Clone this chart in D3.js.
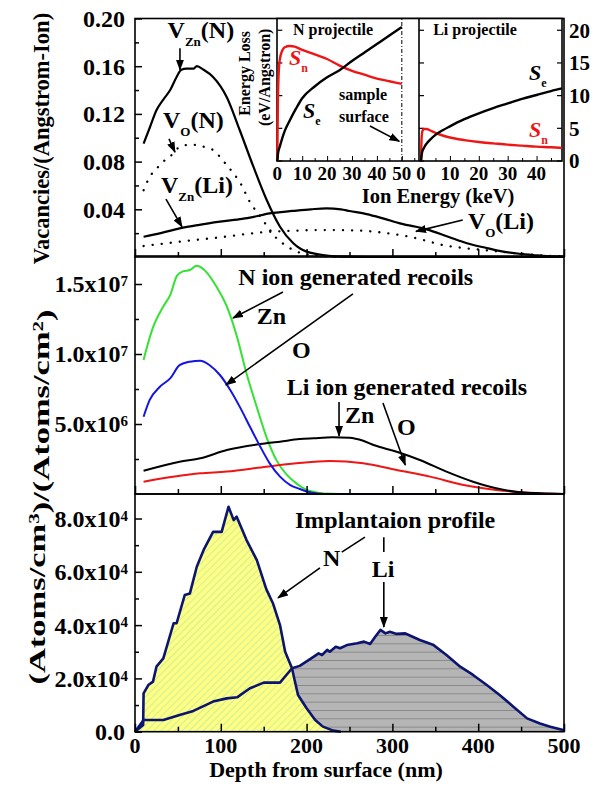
<!DOCTYPE html>
<html><head><meta charset="utf-8">
<script src="https://cdn.jsdelivr.net/npm/d3@7"></script>
<style>
body{margin:0;background:#fff}
svg{display:block}
</style>
</head><body>
<svg id="c" width="598" height="785"></svg>
<script>
// ---------------- DATA ----------------
// Top panel: vacancies (depth nm -> vacancies/(Angstrom-Ion))
const vznN_depth = [10,17.5,25,33,41,48.5,54,60,68,72,80,91,107,122,138,153.5,169,184.5,192,200,212,226,245,270,500];
const vznN_val   = [0.095,0.109,0.123,0.132,0.140,0.151,0.157,0.158,0.158,0.160,0.157,0.151,0.134,0.1065,0.0757,0.0478,0.0254,0.0115,0.0073,0.0045,0.0025,0.001,0.0003,0,0];
const voN_depth  = [10,17,25,33,45,52,62,72,82,91,99,107,115,122,134,146,157,165,175,184,195,210,230,250];
const voN_val    = [0.056,0.067,0.074,0.080,0.087,0.0925,0.094,0.094,0.092,0.0897,0.084,0.077,0.070,0.063,0.046,0.034,0.023,0.0157,0.010,0.006,0.003,0.0012,0.0003,0];
const vznLi_depth = [10,30,52,75,99,125,134,157,184,205,223,240,250,270,289,310,340,365,387,410,429,450,464,480,500];
const vznLi_val   = [0.017,0.020,0.024,0.027,0.0296,0.032,0.033,0.0366,0.0386,0.040,0.0408,0.040,0.0386,0.036,0.0324,0.028,0.0232,0.017,0.0115,0.0075,0.0045,0.0025,0.0017,0.0008,0.0003];
const voLi_depth = [10,52,99,154,185,212,240,270,295,320,340,359,380,406,425,445,470,500];
const voLi_val   = [0.0092,0.0128,0.0165,0.021,0.022,0.0226,0.0225,0.0218,0.0198,0.017,0.0135,0.010,0.0078,0.0059,0.0045,0.003,0.0015,0.0005];

// Middle panel: recoils
const znN_depth = [10,14,21,33,41,49,56,64,72,84,95,107,119,130,142,153,165,177,188,200,208,220,240,500];
const znN_val   = [9.57e6,1.05e7,1.19e7,1.34e7,1.42e7,1.56e7,1.59e7,1.60e7,1.63e7,1.58e7,1.48e7,1.34e7,1.12e7,8.6e6,6.2e6,4.1e6,2.4e6,1.36e6,7.6e5,3e5,1.6e5,3e4,0,0];
const oN_depth  = [10,17,29,41,52,64,76,87,99,111,122,134,146,157,169,181,192,205,220,500];
const oN_val    = [5.52e6,6.7e6,7.66e6,8.26e6,9.2e6,9.45e6,9.52e6,9.2e6,8.5e6,7.43e6,6.24e6,4.8e6,3.38e6,2.19e6,1.24e6,6.4e5,3.6e5,1e5,0,0];
const znLi_depth = [10,52,76,107,153,169,192,208,230,250,266,278,305,332,363,394,421,449,472,500];
const znLi_val   = [1.66e6,2.31e6,2.55e6,3.14e6,3.62e6,3.74e6,3.92e6,3.98e6,4.05e6,4.02e6,3.8e6,3.5e6,3.02e6,2.43e6,1.6e6,8.8e5,4.1e5,1.2e5,5e4,0];
const oLi_depth = [10,76,107,153,188,227,266,305,344,383,421,460,500];
const oLi_val   = [8.8e5,1.48e6,1.6e6,1.95e6,2.19e6,2.36e6,2.19e6,1.71e6,1.24e6,6.4e5,2.9e5,9e4,0];

// Bottom panel: implantation profiles
const impN_depth = [0,9.5,10,15.5,21,25,33,45,48.5,58,64,72,80,91,101,109,115,118.5,130,142,153,161,169,175,183,186,190,200,210,219,231,240];
const impN_val   = [0,2500,14400,17500,18800,24400,27500,40700,40700,51300,51900,61900,68200,75000,75000,84400,79400,80700,71900,64400,53500,48000,40000,30000,23800,19400,13800,8800,4400,1900,400,0];
const impLi_depth = [0,10,33,52,68,91,107,119,134,150,169,183,192,208,214,218,224,227,234,239,247,259,267,274,280,286,292,297,305,315,319,332,348,363,379,394,410,425,441,457,472,484,499,500];
const impLi_val   = [0,4400,4400,6300,7800,11300,12500,12900,16300,18400,18400,23800,24700,28100,29400,28800,30700,30000,31900,31300,32500,33200,33800,32900,35600,38200,36900,37500,36700,36900,36300,34400,32500,28800,24400,21300,17500,13800,9400,5000,3100,1900,600,0];

// Inset: energy loss (keV -> eV/Angstrom)
const nSe_E  = [0,0.3,1,2,3,5,7.5,10,15,20,25,30,35,40,45,50];
const nSe_v  = [0,1.2,2.2,3.5,4.6,6.2,8.0,9.6,11.4,12.8,13.9,15.3,16.6,17.9,19.2,20.5];
const nSn_E  = [0,0.2,0.5,1,2,3,5,7,10,15,20,25,30,35,40,45,50];
const nSn_v  = [0,8,13,15.5,16.9,17.4,17.6,17.5,17.0,16.3,15.6,14.6,13.8,13.2,12.6,12.2,11.8];
const liSe_E = [0,0.3,1,2,3,5,7.5,10,15,20,25,30,35,40,45,48.8];
const liSe_v = [0,1.2,2.0,2.7,3.2,4.0,4.7,5.3,6.4,7.3,8.1,8.8,9.5,10.1,10.7,11.1];
const liSn_E = [0,0.2,0.5,1,2,3,5,7.5,10,15,20,25,30,35,40,45,48.8];
const liSn_v = [0,3.5,4.6,4.9,4.9,4.7,4.3,3.9,3.6,3.2,2.9,2.7,2.5,2.35,2.2,2.1,2.0];

// Tick values / labels
const depthMajor = [0,100,200,300,400,500];
const depthMinor = [50,150,250,350,450];
const topMajor = [0.04,0.08,0.12,0.16,0.20];
const topMinor = [0.02,0.06,0.10,0.14,0.18];
const topLabels = ["0.04","0.08","0.12","0.16","0.20"];
const midMajor = [5e6,1e7,1.5e7];
const midMinor = [2.5e6,7.5e6,1.25e7];
const midLabels = [["5.0x10","6"],["1.0x10","7"],["1.5x10","7"]];
const botMajor = [0,2e4,4e4,6e4,8e4];
const botMinor = [1e4,3e4,5e4,7e4];
const botLabels = [["0.0",""],["2.0x10","4"],["4.0x10","4"],["6.0x10","4"],["8.0x10","4"]];
const insetYTicks = [0,5,10,15,20];
const insetNTicks = [0,10,20,30,40,50];
const insetLiTicks = [0,10,20,30,40];

const FONT = "'Liberation Serif', 'Times New Roman', serif";

// ---------------- SCALES ----------------
const svg = d3.select("#c").attr("font-family",FONT).attr("font-weight","bold");
const x = d3.scaleLinear([0,500],[135,564]);
const yTop = d3.scaleLinear([0,0.2],[257,18.5]);
const yMid = d3.scaleLinear([0,1.7e7],[494,256]);
const yBot = d3.scaleLinear([0,8.92e4],[731.7,494]);
const xN = d3.scaleLinear([0,56.9],[277.3,419]);
const xLi = d3.scaleLinear([-0.7,48.8],[419,562]);
const yIn = d3.scaleLinear([0,21.8],[161,18.5]);

const zip = (a,b)=>a.map((d,i)=>[d,b[i]]);

// defs
const defs = svg.append("defs");
defs.append("marker").attr("id","ah").attr("markerUnits","userSpaceOnUse")
  .attr("markerWidth",11).attr("markerHeight",8).attr("refX",10).attr("refY",4).attr("orient","auto")
  .append("path").attr("d","M0,0 L11,4 L0,8 z").attr("fill","#000");
const pN = defs.append("pattern").attr("id","hatchN").attr("patternUnits","userSpaceOnUse")
  .attr("width",5).attr("height",5).attr("patternTransform","rotate(45)");
pN.append("rect").attr("width",5).attr("height",5).attr("fill","#ffff85");
pN.append("line").attr("x1",0).attr("y1",0).attr("x2",0).attr("y2",5).attr("stroke","#a6e6a0").attr("stroke-width",1.2);
const pL = defs.append("pattern").attr("id","hatchLi").attr("patternUnits","userSpaceOnUse")
  .attr("x",0).attr("y",1.7).attr("width",20).attr("height",8.333);
pL.append("rect").attr("width",20).attr("height",8.333).attr("fill","#b5b5b5");
pL.append("line").attr("x1",0).attr("y1",0).attr("x2",20).attr("y2",0).attr("stroke","#707070").attr("stroke-width",1.2);

// ---------------- PANEL DRAWING ----------------
function lineP(ys){ return d3.line().x(d=>x(d[0])).y(d=>ys(d[1])); }

// Bottom panel areas
const gB = svg.append("g");
gB.append("path").datum(zip(impLi_depth,impLi_val))
  .attr("d",d3.area().x(d=>x(d[0])).y0(yBot(0)).y1(d=>yBot(d[1]))).attr("fill","url(#hatchLi)");
gB.append("path").datum(zip(impN_depth,impN_val))
  .attr("d",d3.area().x(d=>x(d[0])).y0(yBot(0)).y1(d=>yBot(d[1]))).attr("fill","url(#hatchN)");
gB.append("path").datum(zip(impLi_depth,impLi_val)).attr("d",lineP(yBot))
  .attr("fill","none").attr("stroke","#0d1470").attr("stroke-width",2.6).attr("stroke-linejoin","round");
gB.append("path").datum(zip(impN_depth,impN_val)).attr("d",lineP(yBot))
  .attr("fill","none").attr("stroke","#0d1470").attr("stroke-width",2.6).attr("stroke-linejoin","round");

// Middle panel
const gM = svg.append("g");
[[znN_depth,znN_val,"#33e233"],[oLi_depth,oLi_val,"#ee1515"],[znLi_depth,znLi_val,"#000"],[oN_depth,oN_val,"#1515e0"]]
 .forEach(([dx,dv,c])=>{
  gM.append("path").datum(zip(dx,dv)).attr("d",lineP(yMid).curve(d3.curveMonotoneX))
   .attr("fill","none").attr("stroke",c).attr("stroke-width",2);
 });

// Top panel
const gT = svg.append("g");
gT.append("path").datum(zip(vznN_depth,vznN_val)).attr("d",lineP(yTop).curve(d3.curveMonotoneX))
  .attr("fill","none").attr("stroke","#000").attr("stroke-width",2.2);
gT.append("path").datum(zip(vznLi_depth,vznLi_val)).attr("d",lineP(yTop).curve(d3.curveMonotoneX))
  .attr("fill","none").attr("stroke","#000").attr("stroke-width",2.2);
[[voN_depth,voN_val],[voLi_depth,voLi_val]].forEach(([dx,dv])=>{
  gT.append("path").datum(zip(dx,dv)).attr("d",lineP(yTop).curve(d3.curveMonotoneX))
   .attr("fill","none").attr("stroke","#000").attr("stroke-width",2.3)
   .attr("stroke-linecap","round").attr("stroke-dasharray","0.1 9");
});

// Frames
[[yTop,0,0.2],[yMid,0,1.7e7],[yBot,0,8.92e4]].forEach(([ys,a,b])=>{
  svg.append("rect").attr("x",x(0)).attr("y",ys(b)).attr("width",x(500)-x(0)).attr("height",ys(a)-ys(b))
    .attr("fill","none").attr("stroke","#000").attr("stroke-width",1.6);
});

// Axes (ticks inward)
function xTicks(ys){
  const g = svg.append("g").attr("transform",`translate(0,${ys.range()[0]})`);
  g.call(d3.axisBottom(x).tickValues(depthMajor).tickSizeInner(-8).tickSizeOuter(0).tickFormat(""));
  g.call(gg=>gg.select(".domain").remove());
  const g2 = svg.append("g").attr("transform",`translate(0,${ys.range()[0]})`);
  g2.call(d3.axisBottom(x).tickValues(depthMinor).tickSizeInner(-5).tickSizeOuter(0).tickFormat(""));
  g2.call(gg=>gg.select(".domain").remove());
  svg.selectAll(".tick line").attr("stroke-width",1.5);
}
function yTicks(ys, major, minor){
  const g = svg.append("g").attr("transform",`translate(${x(0)},0)`);
  g.call(d3.axisLeft(ys).tickValues(major).tickSizeInner(-7).tickSizeOuter(0).tickFormat(""));
  g.select(".domain").remove();
  const g2 = svg.append("g").attr("transform",`translate(${x(0)},0)`);
  g2.call(d3.axisLeft(ys).tickValues(minor).tickSizeInner(-4).tickSizeOuter(0).tickFormat(""));
  g2.select(".domain").remove();
  svg.selectAll(".tick line").attr("stroke-width",1.5);
}
xTicks(yTop); xTicks(yMid); xTicks(yBot);
yTicks(yTop,topMajor,topMinor); yTicks(yMid,midMajor,midMinor); yTicks(yBot,botMajor,botMinor);

// Tick labels
const FSY = 24, FSX = 22;
topMajor.forEach((v,i)=>{
  svg.append("text").attr("x",125).attr("y",yTop(v)).attr("dy","0.35em").attr("text-anchor","end")
   .attr("font-size",FSY).text(topLabels[i]);
});
function supLabel(ys, vals, labels){
  vals.forEach((v,i)=>{
    const hasSup = !!labels[i][1];
    const t = svg.append("text").attr("x",hasSup?128:125).attr("y",ys(v)).attr("dy","0.35em").attr("text-anchor","end").attr("font-size",FSY);
    t.append("tspan").text(labels[i][0]);
    if(hasSup) t.append("tspan").attr("dy","-0.42em").attr("font-size",15).text(labels[i][1]);
  });
}
supLabel(yMid, midMajor, midLabels);
supLabel(yBot, botMajor, botLabels);
depthMajor.forEach(v=>{
  svg.append("text").attr("x",x(v)).attr("y",753).attr("text-anchor","middle").attr("font-size",FSX).text(v);
});

// Axis titles
svg.append("text").attr("x",326).attr("y",777).attr("text-anchor","middle").attr("font-size",22).text("Depth from surface (nm)");
svg.append("text").attr("transform","translate(49,138.5) rotate(-90)").attr("text-anchor","middle").attr("font-size",22.5)
  .text("Vacancies/(Angstrom-Ion)");
{
  const t = svg.append("text").attr("transform","translate(45,497) rotate(-90) scale(1.5,1)").attr("text-anchor","middle")
    .attr("font-size",23);
  t.append("tspan").text("(Atoms/cm");
  t.append("tspan").attr("dy","-0.42em").attr("font-size",14).text("3");
  t.append("tspan").attr("dy","0.42em").text(")/(Atoms/cm");
  t.append("tspan").attr("dy","-0.42em").attr("font-size",14).text("2");
  t.append("tspan").attr("dy","0.42em").text(")");
}

// ---------------- ANNOTATIONS ----------------
const FSA = 24;
function arrow(x1,y1,x2,y2,head=true){
  const l = svg.append("line").attr("x1",x1).attr("y1",y1).attr("x2",x2).attr("y2",y2)
    .attr("stroke","#000").attr("stroke-width",1.6);
  if(head) l.attr("marker-end","url(#ah)");
}
function vlabel(px,py,sub,rest){
  const t = svg.append("text").attr("x",px).attr("y",py).attr("font-size",FSA);
  t.append("tspan").text("V");
  t.append("tspan").attr("dy",8).attr("font-size",13).text(sub);
  t.append("tspan").attr("dy",-8).text(rest);
}
vlabel(x(38),yTop(0.184),"Zn","(N)");
arrow(x(52.4),yTop(0.175),x(52.4),yTop(0.157));
vlabel(x(32.6),yTop(0.108),"O","(N)");
arrow(x(39.6),yTop(0.099),x(46.6),yTop(0.088));
vlabel(x(30.3),yTop(0.0537),"Zn","(Li)");
arrow(x(36.1),yTop(0.0486),x(54.8),yTop(0.0252));
vlabel(x(388),yTop(0.0231),"O","(Li)");
arrow(x(382),yTop(0.031),x(327.5),yTop(0.0215));

svg.append("text").attr("x",x(120.4)).attr("y",yMid(1.493e7)).attr("font-size",FSA).text("N ion generated recoils");
svg.append("text").attr("x",x(141.8)).attr("y",yMid(1.214e7)).attr("font-size",FSA).text("Zn");
arrow(x(172.5),yMid(1.443e7),x(114.2),yMid(1.257e7));
svg.append("text").attr("x",x(183)).attr("y",yMid(9.71e6)).attr("font-size",FSA).text("O");
arrow(x(254),yMid(1.43e7),x(106),yMid(7.79e6));
svg.append("text").attr("x",x(177)).attr("y",yMid(7.07e6)).attr("font-size",FSA).text("Li ion generated recoils");
svg.append("text").attr("x",x(244.8)).attr("y",yMid(5.07e6)).attr("font-size",FSA).text("Zn");
arrow(x(237.8),yMid(6.57e6),x(237.8),yMid(4.15e6));
svg.append("text").attr("x",x(305.4)).attr("y",yMid(4.21e6)).attr("font-size",FSA).text("O");
arrow(x(289),yMid(6.5e6),x(315),yMid(2.07e6));

svg.append("text").attr("x",x(186.5)).attr("y",yBot(7.64e4)).attr("font-size",FSA).text("Implantaion profile");
svg.append("text").attr("x",x(219)).attr("y",yBot(6.22e4)).attr("font-size",FSA).text("N");
arrow(x(268),yBot(7.3e4),x(241),yBot(6.74e4),false);
arrow(x(215.6),yBot(6.15e4),x(166.7),yBot(5.02e4));
svg.append("text").attr("x",x(276)).attr("y",yBot(5.8e4)).attr("font-size",FSA).text("Li");
arrow(x(290),yBot(7.3e4),x(290),yBot(6.74e4),false);
arrow(x(290),yBot(5.62e4),x(290),yBot(3.93e4));

// ---------------- INSET ----------------
const gI = svg.append("g");
gI.append("rect").attr("x",xN(0)-0.3).attr("y",yIn(21.8)).attr("width",xLi(48.8)-xN(0)+0.3).attr("height",yIn(0)-yIn(21.8))
  .attr("fill","#fff").attr("stroke","#000").attr("stroke-width",1.6);
gI.append("line").attr("x1",xLi(-0.7)).attr("x2",xLi(-0.7)).attr("y1",yIn(0)).attr("y2",yIn(21.8)).attr("stroke","#000").attr("stroke-width",1.6);
// sample surface line
gI.append("line").attr("x1",xN(50)).attr("x2",xN(50)).attr("y1",yIn(0)).attr("y2",yIn(21.8))
  .attr("stroke","#000").attr("stroke-width",1).attr("stroke-dasharray","4 2 1 2");
// inset ticks
function inY(px,dir){
  insetYTicks.forEach(v=>{
    gI.append("line").attr("x1",px).attr("x2",px+dir*5).attr("y1",yIn(v)).attr("y2",yIn(v)).attr("stroke","#000").attr("stroke-width",1.2);
  });
}
inY(xN(0),1); inY(xLi(-0.7),1); inY(xLi(48.8),-1);
function inX(sc,ticks,maxV){
  const g = gI.append("g").attr("transform",`translate(0,${yIn(0)})`);
  g.call(d3.axisBottom(sc).tickValues(ticks).tickSizeInner(-5).tickSizeOuter(0).tickFormat(""));
  g.select(".domain").remove();
  const minors = ticks.map(t=>t+5).filter(t=>t<maxV);
  const g2 = gI.append("g").attr("transform",`translate(0,${yIn(0)})`);
  g2.call(d3.axisBottom(sc).tickValues(minors).tickSizeInner(-3).tickSizeOuter(0).tickFormat(""));
  g2.select(".domain").remove();
  ticks.forEach(t=>{
    gI.append("text").attr("x",sc(t)).attr("y",180).attr("text-anchor","middle").attr("font-size",19).text(t);
  });
}
inX(xN,insetNTicks,56);
inX(xLi,insetLiTicks,48);
insetYTicks.forEach(v=>{
  gI.append("text").attr("x",569).attr("y",yIn(v)).attr("dy","0.35em").attr("font-size",21).text(v);
});
gI.append("text").attr("x",438).attr("y",203).attr("text-anchor","middle").attr("font-size",20.5).text("Ion Energy (keV)");
gI.append("text").attr("transform",`translate(250,${yIn(13.4)}) rotate(-90)`).attr("text-anchor","middle").attr("font-size",16).text("Energy Loss");
gI.append("text").attr("transform",`translate(270,${yIn(12.8)}) rotate(-90)`).attr("text-anchor","middle").attr("font-size",16).text("(eV/Angstron)");

// inset curves
const lN = d3.line().x(d=>xN(d[0])).y(d=>yIn(d[1])).curve(d3.curveMonotoneX);
const lL = d3.line().x(d=>xLi(d[0])).y(d=>yIn(d[1])).curve(d3.curveMonotoneX);
gI.append("path").datum(zip(nSn_E,nSn_v)).attr("d",lN).attr("fill","none").attr("stroke","#ee1515").attr("stroke-width",2.4);
gI.append("path").datum(zip(nSe_E,nSe_v)).attr("d",lN).attr("fill","none").attr("stroke","#000").attr("stroke-width",2.4);
gI.append("path").datum(zip(liSn_E,liSn_v)).attr("d",lL).attr("fill","none").attr("stroke","#ee1515").attr("stroke-width",2.4);
gI.append("path").datum(zip(liSe_E,liSe_v)).attr("d",lL).attr("fill","none").attr("stroke","#000").attr("stroke-width",2.4);

gI.append("text").attr("x",xN(6.3)).attr("y",yIn(19.3)).attr("font-size",16).text("N projectile");
gI.append("text").attr("x",xLi(4.2)).attr("y",yIn(19.3)).attr("font-size",16).text("Li projectile");
function sLabel(px,py,sub,color){
  const t = gI.append("text").attr("x",px).attr("y",py).attr("font-size",22).attr("font-style","italic").attr("fill",color);
  t.append("tspan").text("S");
  t.append("tspan").attr("dy",7).attr("font-size",12).attr("font-style","normal").text(sub);
}
sLabel(xN(4.7),yIn(14.7),"n","#ee1515");
sLabel(xN(10.3),yIn(6.6),"e","#000");
sLabel(xLi(37.4),yIn(12.4),"e","#000");
sLabel(xLi(37.4),yIn(3.7),"n","#ee1515");
gI.append("text").attr("x",xN(24.8)).attr("y",yIn(9.3)).attr("font-size",16).text("sample");
gI.append("text").attr("x",xN(24.8)).attr("y",yIn(5.9)).attr("font-size",16).text("surface");
gI.append("line").attr("x1",xN(37.2)).attr("y1",yIn(5.35)).attr("x2",xN(49)).attr("y2",yIn(3.0))
  .attr("stroke","#000").attr("stroke-width",1.6).attr("marker-end","url(#ah)");

svg.selectAll("text").style("font-family",FONT).style("font-weight","bold");
</script>
</body></html>
